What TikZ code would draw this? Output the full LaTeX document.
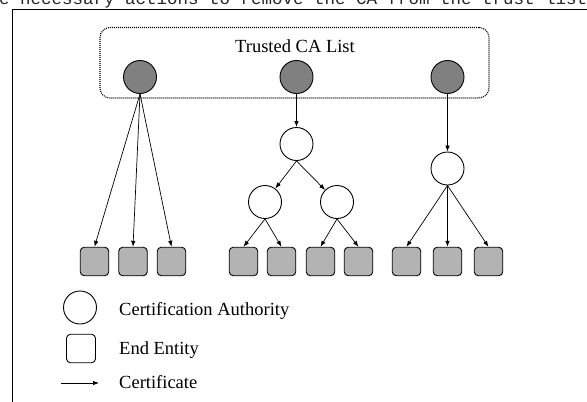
\documentclass[tikz,border=0pt]{standalone}
\usepackage{fontspec}
\setmainfont{Liberation Serif}
\newfontfamily\monofam{Liberation Mono}
\usetikzlibrary{arrows.meta}
\definecolor{cadark}{RGB}{128,128,128}
\definecolor{eebox}{RGB}{179,179,179}
\begin{document}
\begin{tikzpicture}[x=1pt,y=-1pt,
  ca/.style={circle, draw, line width=0.9pt, minimum size=33pt, inner sep=0pt, fill=white},
  trusted/.style={ca, fill=cadark},
  ee/.style={rounded corners=4pt, draw, line width=0.9pt, minimum width=28.5pt, minimum height=28.5pt, inner sep=0pt, fill=eebox},
  cert/.style={-{Latex[length=6pt,width=4.5pt]}, line width=0.7pt},
  lbl/.style={font=\fontsize{18.5}{22}\selectfont, anchor=base west, inner sep=0pt},
  listbox/.style={draw, line width=1.1pt, dash pattern=on 1pt off 1pt, rounded corners=10pt, inner sep=0pt}]
\useasboundingbox (0,0) rectangle (587,402);
\clip (0,0) rectangle (587,402);
% clipped line of the surrounding page
\node[font=\monofam\fontsize{17.5}{20}\selectfont, text=black!85, anchor=base west, inner sep=0pt] (pagetext) at (-1,4.5) {e necessary actions to remove the CA from the trust list};
% frame
\draw[line width=1pt] (12.3,402) -- (12.3,9.3) -- (587,9.3);
% trusted list container
\node[listbox, minimum width=389pt, minimum height=70.5pt] (tl) at (294.5,62.75) {};
\node[font=\fontsize{18.5}{22}\selectfont, anchor=base, inner sep=0pt] (title) at (295,52.3) {Trusted CA List};
% trusted CAs
\node[trusted] (d1) at (140,77) {};
\node[trusted] (d2) at (296.5,77) {};
\node[trusted] (d3) at (447.5,77) {};
% intermediate CAs
\node[ca] (w1) at (296.5,144) {};
\node[ca] (w2) at (265,202) {};
\node[ca] (w3) at (337,202) {};
\node[ca] (w4) at (447.5,168.5) {};
% end entities
\foreach \n/\x in {1/94.5,2/133,3/171.5,4/243.5,5/281.5,6/320.5,7/358.5,8/406.5,9/447.5,10/488.5}
  \node[ee] (e\n) at (\x,261.5) {};
% certificates
\draw[cert] (d1.south) -- (e1.north);
\draw[cert] (d1.south) -- (e2.north);
\draw[cert] (d1.south) -- (e3.north);
\draw[cert] (d2) -- (w1);
\draw[cert] (w1.south) -- (w2);
\draw[cert] (w1.south) -- (w3);
\draw[cert] (w2.south) -- (e4.north);
\draw[cert] (w2.south) -- (e5.north);
\draw[cert] (w3.south) -- (e6.north);
\draw[cert] (w3.south) -- (e7.north);
\draw[cert] (d3) -- (w4);
\draw[cert] (w4.south) -- (e8.north);
\draw[cert] (w4.south) -- (e9.north);
\draw[cert] (w4.south) -- (e10.north);
% legend
\node[ca] (lc) at (80,307.5) {};
\node[ee, fill=white, minimum width=29pt] (lb) at (81,348.5) {};
\coordinate (la) at (61,383);
\coordinate (lz) at (99,383);
\draw[cert] (la) -- (lz);
\node[lbl] (t1) at (119,315) {Certification Authority};
\node[lbl] (t2) at (119,354.3) {End Entity};
\node[lbl] (t3) at (119,388.3) {Certificate};
\end{tikzpicture}
\end{document}
